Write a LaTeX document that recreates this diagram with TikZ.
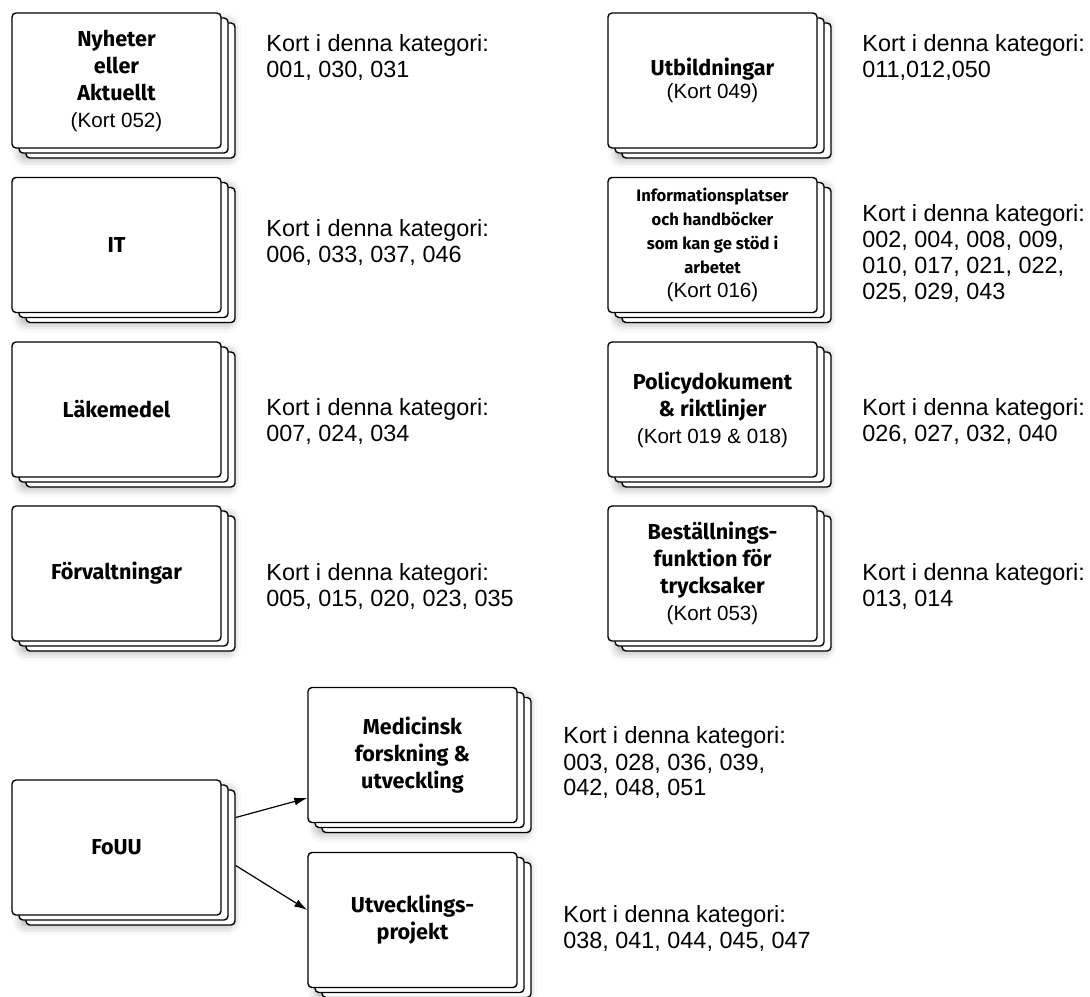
\documentclass[tikz,border=0pt]{standalone}
\usepackage{fontspec}
\setmainfont{Liberation Sans}
\newfontfamily\cardfont{Fira Sans}
\usetikzlibrary{shapes,arrows,positioning,calc,shadows,shadows.blur,arrows.meta}

\tikzset{
  card/.style={draw, line width=0.7pt, fill=white, rounded corners=2pt,
    minimum width=104.5pt, minimum height=67.5pt, inner sep=2pt, align=center,
    font=\cardfont\bfseries\fontsize{10.8}{13.5}\selectfont,
    blur shadow={shadow xshift=5pt, shadow yshift=-5pt, shadow blur radius=5pt, shadow opacity=40},
    general shadow={shadow xshift=7pt, shadow yshift=-5pt, draw=black, fill=white, line width=0.7pt},
    general shadow={shadow xshift=3.5pt, shadow yshift=-2.5pt, draw=black, fill=white, line width=0.7pt}},
  lbl/.style={anchor=west, align=left, inner sep=0pt, font=\fontsize{11.7}{13}\selectfont},
  arrow/.style={-{Latex[length=6.5pt,width=4pt]}, line width=0.6pt},
}
\newcommand{\kort}[1]{{\normalfont\fontsize{10.3}{13.5}\selectfont #1}}

\begin{document}
\begin{tikzpicture}[x=0.5pt, y=-0.5pt]
    \useasboundingbox (0,0) rectangle (1090,996);

    % Left column
    \node [card] (nyh) at (116.5, 80.5) {Nyheter\\eller\\Aktuellt\\\kort{(Kort 052)}};
    \node [lbl] (nyhl) at (266, 57.5) {Kort i denna kategori:\\001, 030, 031};

    \node [card] (it) at (116.5, 245) {IT};
    \node [lbl] (itl) at (266, 242.5) {Kort i denna kategori:\\006, 033, 037, 046};

    \node [card] (lak) at (116.5, 409.5) {L\"akemedel};
    \node [lbl] (lakl) at (266, 422) {Kort i denna kategori:\\007, 024, 034};

    \node [card] (forv) at (116.5, 573.5) {F\"orvaltningar};
    \node [lbl] (forvl) at (266, 587) {Kort i denna kategori:\\005, 015, 020, 023, 035};

    % Right column
    \node [card] (utb) at (712.5, 80.5) {Utbildningar\\[-2pt]\kort{(Kort 049)}};
    \node [lbl] (utbl) at (862, 57.5) {Kort i denna kategori:\\011,012,050};

    \node [card, font=\cardfont\bfseries\fontsize{8.3}{12}\selectfont] (info) at (712.5, 245)
        {Informationsplatser\\och handb\"ocker\\som kan ge st\"od i\\arbetet\\\kort{(Kort 016)}};
    \node [lbl] (infol) at (862, 254) {Kort i denna kategori:\\002, 004, 008, 009,\\010, 017, 021, 022,\\025, 029, 043};

    \node [card] (pol) at (712.5, 409.5) {Policydokument\\\& riktlinjer\\\kort{(Kort 019 \& 018)}};
    \node [lbl] (poll) at (862, 422) {Kort i denna kategori:\\026, 027, 032, 040};

    \node [card] (best) at (712.5, 573.5) {Best\"allnings-\\funktion f\"or\\trycksaker\\\kort{(Kort 053)}};
    \node [lbl] (bestl) at (862, 587) {Kort i denna kategori:\\013, 014};

    % FoUU
    \node [card] (fouu) at (116.5, 847.5) {FoUU};
    \node [card] (med) at (412.5, 755) {Medicinsk\\forskning \&\\utveckling};
    \node [lbl] (medl) at (563, 763) {Kort i denna kategori:\\003, 028, 036, 039,\\042, 048, 051};
    \node [card] (utv) at (412.5, 920) {Utvecklings-\\projekt};
    \node [lbl] (utvl) at (563, 928) {Kort i denna kategori:\\038, 041, 044, 045, 047};

    \draw [arrow] ([xshift=7pt, yshift=15pt]fouu.east) -- ([yshift=-21.5pt]med.west);
    \draw [arrow] ([xshift=7pt, yshift=-9pt]fouu.east) -- ([yshift=5pt]utv.west);
\end{tikzpicture}
\end{document}
